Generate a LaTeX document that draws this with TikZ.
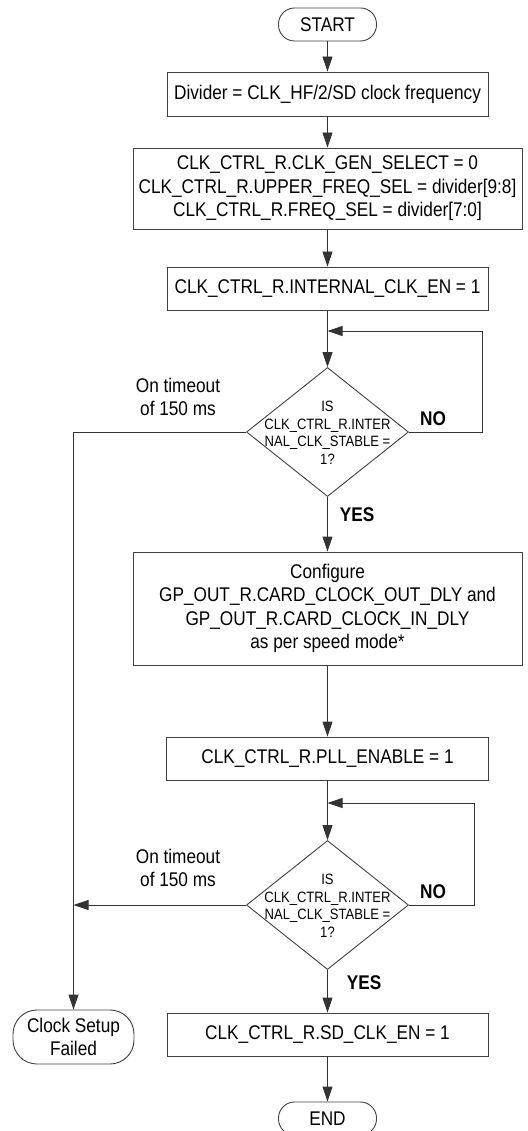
\documentclass[tikz,border=0pt]{standalone}
\usepackage{fontspec}
\setmainfont[FakeStretch=0.87]{Liberation Sans}
\usetikzlibrary{arrows.meta,shapes.geometric}
\begin{document}
\begin{tikzpicture}[x=1pt,y=-1pt,
  ln/.style={draw=black!80,line width=0.9pt},
  arr/.style={ln,-{Triangle[length=15pt,width=10pt]}},
  procbox/.style={draw=black!75,line width=0.9pt,rectangle,inner sep=0pt,align=center,
     font=\fontsize{19.8}{23.5}\selectfont},
  term/.style={draw=black!75,line width=0.9pt,rectangle,inner sep=0pt,align=center,
     font=\fontsize{19.8}{23}\selectfont},
  decision/.style={draw=black!75,line width=0.9pt,diamond,inner sep=0pt,
     minimum width=162pt,minimum height=129pt},
  dtext/.style={align=center,inner sep=0pt,font=\fontsize{15}{17.5}\selectfont},
  lbl/.style={align=center,inner sep=0pt,font=\fontsize{19.8}{23}\selectfont},
  yn/.style={inner sep=0pt,font=\fontsize{19.8}{20}\selectfont\bfseries}]
\useasboundingbox (0,0) rectangle (527,1131);
\clip (0,0) rectangle (527,1131);

\node[term,rounded corners=16pt,minimum width=98pt,minimum height=33pt] (start) at (327.5,24.5) {START};
\node[procbox,minimum width=321pt,minimum height=44pt] (div) at (327.5,94) {Divider = CLK\_HF/2/SD clock frequency};
\node[procbox,minimum width=389pt,minimum height=81pt] (sel) at (327.5,188.5) {CLK\_CTRL\_R.CLK\_GEN\_SELECT = 0\\CLK\_CTRL\_R.UPPER\_FREQ\_SEL = divider[9:8]\\CLK\_CTRL\_R.FREQ\_SEL = divider[7:0]};
\node[procbox,minimum width=321pt,minimum height=43pt] (ien) at (327.5,288.5) {CLK\_CTRL\_R.INTERNAL\_CLK\_EN = 1};
\node[decision] (d1) at (327.5,432) {};
\node[dtext] (d1t) at (327.5,433) {IS\\CLK\_CTRL\_R.INTER\\NAL\_CLK\_STABLE =\\1?};
\node[procbox,minimum width=389pt,minimum height=113pt] (cfg) at (327.5,608.5) {Configure\\GP\_OUT\_R.CARD\_CLOCK\_OUT\_DLY and\\GP\_OUT\_R.CARD\_CLOCK\_IN\_DLY\\as per speed mode*};
\node[procbox,minimum width=322pt,minimum height=43pt] (pll) at (327.5,758.5) {CLK\_CTRL\_R.PLL\_ENABLE = 1};
\node[decision] (d2) at (327.5,905) {};
\node[dtext] (d2t) at (327.5,906) {IS\\CLK\_CTRL\_R.INTER\\NAL\_CLK\_STABLE =\\1?};
\node[procbox,minimum width=321pt,minimum height=43pt] (sd) at (327.5,1034.5) {CLK\_CTRL\_R.SD\_CLK\_EN = 1};
\node[term,rounded corners=16pt,minimum width=98pt,minimum height=33pt] (end) at (327.5,1118.5) {END};
\node[term,rounded corners=24pt,minimum width=121pt,minimum height=54pt] (fail) at (73.5,1037) {Clock Setup\\Failed};

\coordinate (l1) at (482,432);
\coordinate (l1t) at (482,331);
\coordinate (j1) at (327.5,331);
\coordinate (t1) at (73.5,432);
\coordinate (l2) at (474,905);
\coordinate (l2t) at (474,803);
\coordinate (j2) at (327.5,803);
\coordinate (t2) at (73.5,905);

\draw[arr] (start) -- (div);
\draw[arr] (div) -- (sel);
\draw[arr] (sel) -- (ien);
\draw[arr] (ien) -- (d1.north);
\draw[arr] (d1.east) -- (l1) -- (l1t) -- (j1);
\draw[arr] (d1.south) -- (cfg);
\draw[arr] (d1.west) -- (t1) -- (fail.north);
\draw[arr] (cfg) -- (pll);
\draw[arr] (pll) -- (d2.north);
\draw[arr] (d2.east) -- (l2) -- (l2t) -- (j2);
\draw[arr] (d2.west) -- (t2);
\draw[arr] (d2.south) -- (sd);
\draw[arr] (sd) -- (end);

\node[lbl] (to1) at (178,396.5) {On timeout\\of 150 ms};
\node[lbl] (to2) at (178,867.5) {On timeout\\of 150 ms};
\node[yn] (no1) at (433,419) {NO};
\node[yn] (no2) at (433,892) {NO};
\node[yn] (yes1) at (357,515) {YES};
\node[yn] (yes2) at (364,983) {YES};
\end{tikzpicture}
\end{document}
